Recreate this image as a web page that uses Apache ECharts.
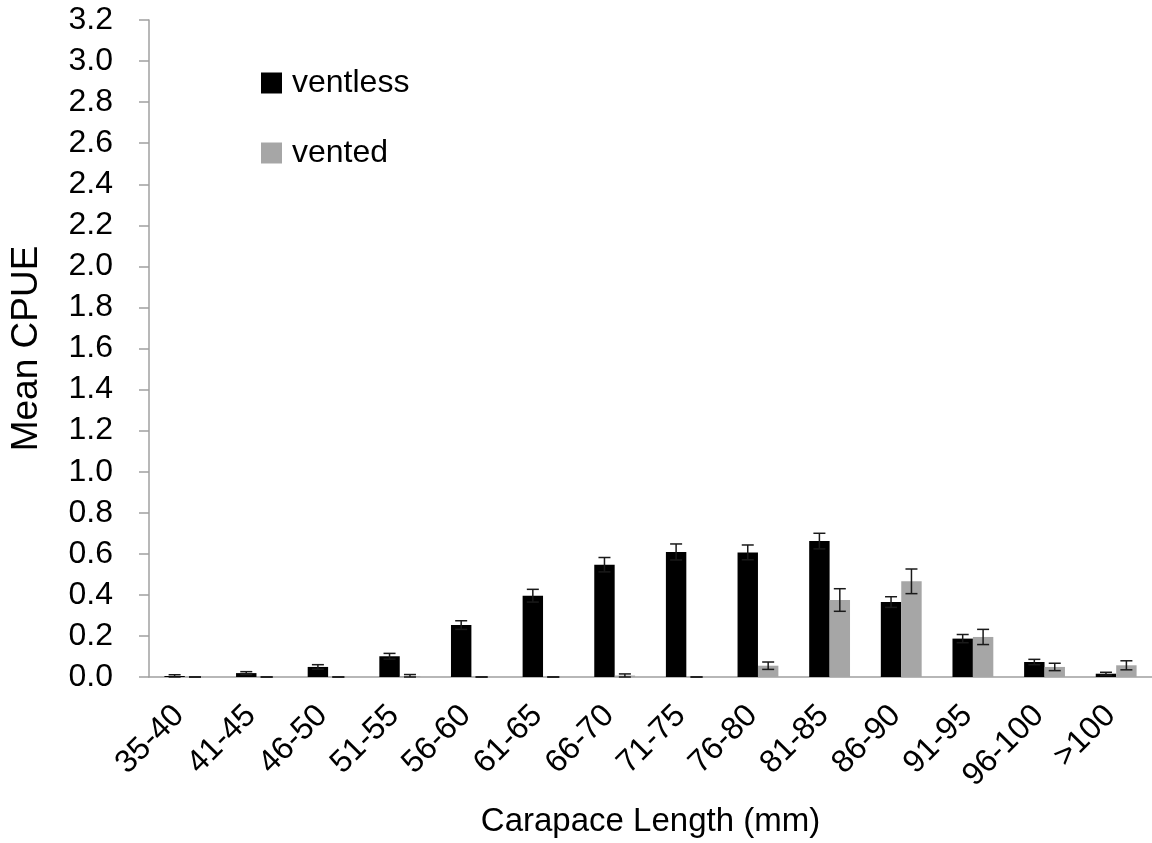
<!DOCTYPE html>
<html>
<head>
<meta charset="utf-8">
<script src="https://cdn.jsdelivr.net/npm/echarts@6/dist/echarts.min.js"></script>
<style>
html,body{margin:0;padding:0;background:#fff;}
#chart{width:1152px;height:843px;}
</style>
</head>
<body>
<div id="chart"></div>
<script>
const categories = ['35-40','41-45','46-50','51-55','56-60','61-65','66-70','71-75','76-80','81-85','86-90','91-95','96-100','>100'];
const ventless    = [0.005,0.019,0.049,0.101,0.253,0.396,0.547,0.609,0.607,0.662,0.365,0.187,0.073,0.016];
const ventlessErr = [0.006,0.007,0.011,0.014,0.021,0.031,0.035,0.039,0.036,0.038,0.026,0.020,0.013,0.007];
const vented      = [0,0,0,0.005,0,0,0.007,0,0.055,0.375,0.466,0.195,0.049,0.057];
const ventedErr   = [0,0,0,0.007,0,0,0.008,0,0.018,0.055,0.060,0.037,0.018,0.022];

const FONT = '"Liberation Sans", Arial, sans-serif';
const BAR_FRAC = 0.285;

function errData(vals, errs){
  return vals.map((v,i)=>[i, v, errs[i]]);
}
function makeErrRender(offsetSign){
  return function(params, api){
    const i = api.value(0), v = api.value(1), e = api.value(2);
    const band = api.size([1,0])[0];
    const c = api.coord([i, v]);
    const x = c[0] + offsetSign * band * BAR_FRAC / 2;
    const yTop = api.coord([i, v + e])[1];
    const yBot = api.coord([i, Math.max(0, v - e)])[1];
    const hw = 6;
    const style = {stroke:'#1a1a1a', lineWidth:1.5, fill:null};
    return {type:'group', children:[
      {type:'line', shape:{x1:x,y1:yTop,x2:x,y2:yBot}, style},
      {type:'line', shape:{x1:x-hw,y1:yTop,x2:x+hw,y2:yTop}, style},
      {type:'line', shape:{x1:x-hw,y1:yBot,x2:x+hw,y2:yBot}, style}
    ]};
  };
}

const chart = echarts.init(document.getElementById('chart'), null, {renderer:'canvas'});
chart.setOption({
  animation:false,
  backgroundColor:'#ffffff',
  textStyle:{fontFamily:FONT},
  grid:{left:147, top:20, width:1006, height:657, containLabel:false},
  legend:{
    orient:'vertical', left:256, top:62, padding:5,
    itemWidth:21, itemHeight:21, itemGap:38,
    icon:'rect',
    textStyle:{fontFamily:FONT, fontSize:32, color:'#000', padding:[0,0,0,5]},
    data:['ventless','vented']
  },
  xAxis:{
    type:'category', data:categories,
    name:'Carapace Length (mm)', nameLocation:'middle', nameGap:128,
    nameTextStyle:{fontFamily:FONT, fontSize:33, color:'#000'},
    axisLine:{lineStyle:{color:'#a0a0a0', width:1.5}},
    axisTick:{alignWithLabel:false, length:10, lineStyle:{color:'#a0a0a0', width:1.5}},
    axisLabel:{rotate:45, margin:28, padding:[0,8,0,0], fontFamily:FONT, fontSize:32, color:'#000', interval:0},
    splitLine:{show:false}
  },
  yAxis:{
    type:'value', min:0, max:3.2, interval:0.2,
    name:'Mean CPUE', nameLocation:'middle', nameGap:104, nameRotate:90,
    nameTextStyle:{fontFamily:FONT, fontSize:37, color:'#000'},
    axisLine:{show:true, lineStyle:{color:'#a0a0a0', width:1.5}},
    axisTick:{show:true, length:10, lineStyle:{color:'#a0a0a0', width:1.5}},
    axisLabel:{margin:36, fontFamily:FONT, fontSize:32, color:'#000', formatter:v=>v.toFixed(1)},
    splitLine:{show:false}
  },
  series:[
    {name:'ventless', type:'bar', data:ventless, barWidth:(BAR_FRAC*100)+'%', barGap:'0%',
     itemStyle:{color:'#000000'}, z:2},
    {name:'vented', type:'bar', data:vented, barWidth:(BAR_FRAC*100)+'%', barGap:'0%',
     itemStyle:{color:'#a6a6a6'}, z:2},
    {name:'ventlessErr', type:'custom', renderItem:makeErrRender(-1),
     data:errData(ventless, ventlessErr), encode:{x:0,y:1}, z:5, silent:true},
    {name:'ventedErr', type:'custom', renderItem:makeErrRender(1),
     data:errData(vented, ventedErr), encode:{x:0,y:1}, z:5, silent:true}
  ]
});
</script>
</body>
</html>
